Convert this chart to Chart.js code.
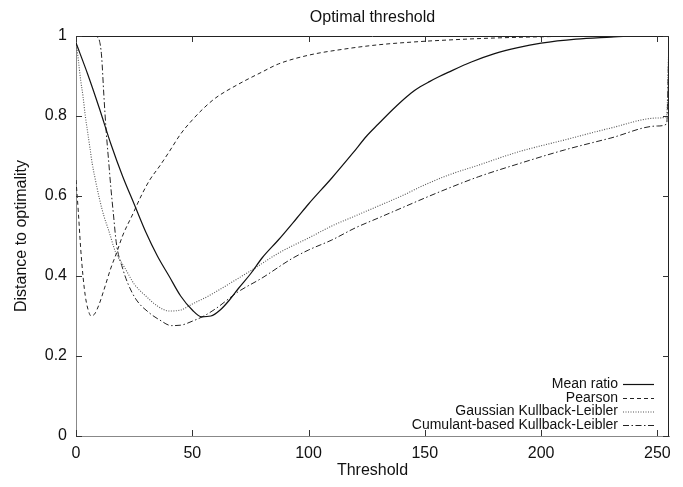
<!DOCTYPE html>
<html>
<head>
<meta charset="utf-8">
<script src="https://cdn.jsdelivr.net/npm/chart.js@4/dist/chart.umd.min.js"></script>
<style>
html,body{margin:0;padding:0;background:#fff;}
#wrap{width:683px;height:487px;}
</style>
</head>
<body>
<div id="wrap"><canvas id="c" width="683" height="487"></canvas></div>
<script>
const chartTitle = "Optimal threshold";
const xAxisTitle = "Threshold";
const yAxisTitle = "Distance to optimality";
const xTickValues = [0, 50, 100, 150, 200, 250];
const yTickValues = [0, 0.2, 0.4, 0.6, 0.8, 1];

const seriesNames = ["Mean ratio", "Pearson", "Gaussian Kullback-Leibler", "Cumulant-based Kullback-Leibler"];

const meanRatioX = [0, 5, 10, 15, 20, 25, 30, 35, 40, 45, 50, 54, 58, 62, 66, 70, 75, 80, 87, 95, 100, 110, 119, 125, 130, 136, 140, 144, 148, 152, 156, 160, 170, 180, 190, 200, 215, 230, 240, 255];
const meanRatioY = [0.983, 0.905, 0.82, 0.73, 0.65, 0.58, 0.51, 0.45, 0.40, 0.35, 0.315, 0.298, 0.30, 0.315, 0.34, 0.37, 0.405, 0.445, 0.49, 0.545, 0.58, 0.645, 0.707, 0.75, 0.78, 0.815, 0.837, 0.857, 0.873, 0.886, 0.898, 0.909, 0.935, 0.956, 0.971, 0.982, 0.992, 0.997, 1.0, 1.0];

const pearsonX = [0, 1, 2, 3, 4, 5, 6.5, 8, 10, 12, 15, 17.4, 20, 24.6, 28, 31.7, 36, 40, 45, 50, 55, 60, 70, 80, 87, 100, 115, 130, 145, 160, 180, 200, 220, 255];
const pearsonY = [0.64, 0.56, 0.47, 0.40, 0.35, 0.32, 0.30, 0.305, 0.33, 0.365, 0.42, 0.457, 0.50, 0.557, 0.60, 0.64, 0.675, 0.71, 0.755, 0.79, 0.82, 0.845, 0.88, 0.91, 0.93, 0.952, 0.967, 0.978, 0.985, 0.99, 0.995, 0.998, 1.0, 1.0];

const gaussianX = [0, 1, 2, 3, 4, 5, 6, 7, 8, 10, 12, 14, 17, 20, 22, 25, 30, 35, 40, 45, 50, 57, 60, 70, 77, 87, 100, 110, 120, 130, 140, 150, 160, 173, 190, 210, 230, 250, 254, 255];
const gaussianY = [0.99, 0.94, 0.89, 0.85, 0.80, 0.76, 0.72, 0.68, 0.65, 0.595, 0.55, 0.515, 0.46, 0.43, 0.41, 0.38, 0.35, 0.325, 0.3125, 0.315, 0.33, 0.35, 0.36, 0.395, 0.42, 0.457, 0.495, 0.525, 0.55, 0.575, 0.60, 0.628, 0.652, 0.677, 0.71, 0.74, 0.77, 0.795, 0.80, 1.0];

const cumulantX = [0, 8, 9, 10, 11, 12, 13, 14, 15, 16, 17.4, 20, 22.4, 26, 31.7, 36, 41, 45, 50, 55, 60, 69.6, 80, 93, 100, 110, 120, 130, 140, 150, 160, 173, 190, 210, 230, 250, 254, 255];
const cumulantY = [1.0, 1.0, 0.998, 0.99, 0.95, 0.85, 0.76, 0.69, 0.62, 0.56, 0.48, 0.42, 0.38, 0.34, 0.307, 0.29, 0.276, 0.277, 0.287, 0.30, 0.318, 0.36, 0.395, 0.444, 0.465, 0.49, 0.52, 0.545, 0.57, 0.595, 0.619, 0.648, 0.68, 0.715, 0.745, 0.775, 0.78, 1.0];

const FONT = "'Liberation Sans', Arial, Helvetica, sans-serif";

function pts(xs, ys) { return xs.map((x, i) => ({x: x, y: ys[i]})); }

const styles = [
  {color: '#111', dash: [], width: 1.2},
  {color: '#222', dash: [4, 3], width: 1},
  {color: '#555', dash: [1, 1.5], width: 1.1},
  {color: '#222', dash: [6, 2.5, 1.5, 2.5], width: 1}
];

const datasets = [
  [meanRatioX, meanRatioY], [pearsonX, pearsonY], [gaussianX, gaussianY], [cumulantX, cumulantY]
].map((s, i) => ({
  label: seriesNames[i],
  data: pts(s[0], s[1]),
  borderColor: styles[i].color,
  borderDash: styles[i].dash,
  borderWidth: styles[i].width,
  pointRadius: 0,
  fill: false,
  cubicInterpolationMode: 'monotone'
}));

const framePlugin = {
  id: 'frame',
  afterDraw(chart) {
    const ctx = chart.ctx;
    const a = chart.chartArea;
    const xs = chart.scales.x, ys = chart.scales.y;
    ctx.save();
    ctx.strokeStyle = '#222';
    ctx.lineWidth = 1;
    ctx.setLineDash([]);
    ctx.beginPath();
    ctx.moveTo(a.left, a.top + 0.5); ctx.lineTo(a.right, a.top + 0.5);
    ctx.moveTo(a.right - 0.5, a.top); ctx.lineTo(a.right - 0.5, a.bottom);
    ctx.stroke();
    ctx.strokeStyle = '#333';
    ctx.beginPath();
    const tl = 6;
    xTickValues.forEach(v => {
      const px = Math.round(xs.getPixelForValue(v)) + 0.5;
      ctx.moveTo(px, a.bottom); ctx.lineTo(px, a.bottom - tl);
      ctx.moveTo(px, a.top); ctx.lineTo(px, a.top + tl);
    });
    yTickValues.forEach(v => {
      const py = Math.round(ys.getPixelForValue(v)) + 0.5;
      ctx.moveTo(a.left, py); ctx.lineTo(a.left + tl, py);
      ctx.moveTo(a.right, py); ctx.lineTo(a.right - tl, py);
    });
    ctx.stroke();
    ctx.fillStyle = '#111';
    ctx.font = '16px ' + FONT;
    ctx.textAlign = 'center';
    ctx.textBaseline = 'middle';
    ctx.fillText(chartTitle, (a.left + a.right) / 2, 18);
    ctx.font = '14px ' + FONT;
    ctx.textAlign = 'right';
    const legY = [384, 398, 411.5, 425];
    const textX = 618, l0 = 623, l1 = 654;
    seriesNames.forEach((n, i) => {
      ctx.fillStyle = '#111';
      ctx.fillText(n, textX, legY[i]);
      ctx.strokeStyle = styles[i].color;
      ctx.lineWidth = styles[i].width;
      ctx.setLineDash(styles[i].dash);
      ctx.beginPath();
      ctx.moveTo(l0, legY[i] + 0.5); ctx.lineTo(l1, legY[i] + 0.5);
      ctx.stroke();
    });
    ctx.restore();
  }
};

new Chart(document.getElementById('c'), {
  type: 'line',
  data: {datasets: datasets},
  options: {
    responsive: false,
    animation: false,
    events: [],
    layout: {padding: {left: 0, right: 14, top: 36, bottom: 0}},
    plugins: {legend: {display: false}, title: {display: false}, tooltip: {enabled: false}},
    scales: {
      x: {
        type: 'linear', min: 0, max: 255,
        afterBuildTicks: s => { s.ticks = xTickValues.map(v => ({value: v})); },
        afterFit: s => { s.height = 51; },
        grid: {drawOnChartArea: false, drawTicks: false},
        border: {color: '#888', width: 1},
        ticks: {color: '#111', font: {family: FONT, size: 16}, padding: 8, maxRotation: 0,
                callback: v => String(v)},
        title: {display: true, text: xAxisTitle, color: '#111', font: {family: FONT, size: 16}, padding: {top: 0, bottom: 7}}
      },
      y: {
        type: 'linear', min: 0, max: 1,
        afterBuildTicks: s => { s.ticks = yTickValues.map(v => ({value: v})); },
        afterFit: s => { s.width = 76; },
        grid: {drawOnChartArea: false, drawTicks: false},
        border: {color: '#888', width: 1},
        ticks: {color: '#111', font: {family: FONT, size: 16}, padding: 9,
                callback: v => String(Math.round(v * 10) / 10)},
        title: {display: true, text: yAxisTitle, color: '#111', font: {family: FONT, size: 16}, padding: {top: 12.4, bottom: 0}}
      }
    }
  },
  plugins: [framePlugin]
});
</script>
</body>
</html>
